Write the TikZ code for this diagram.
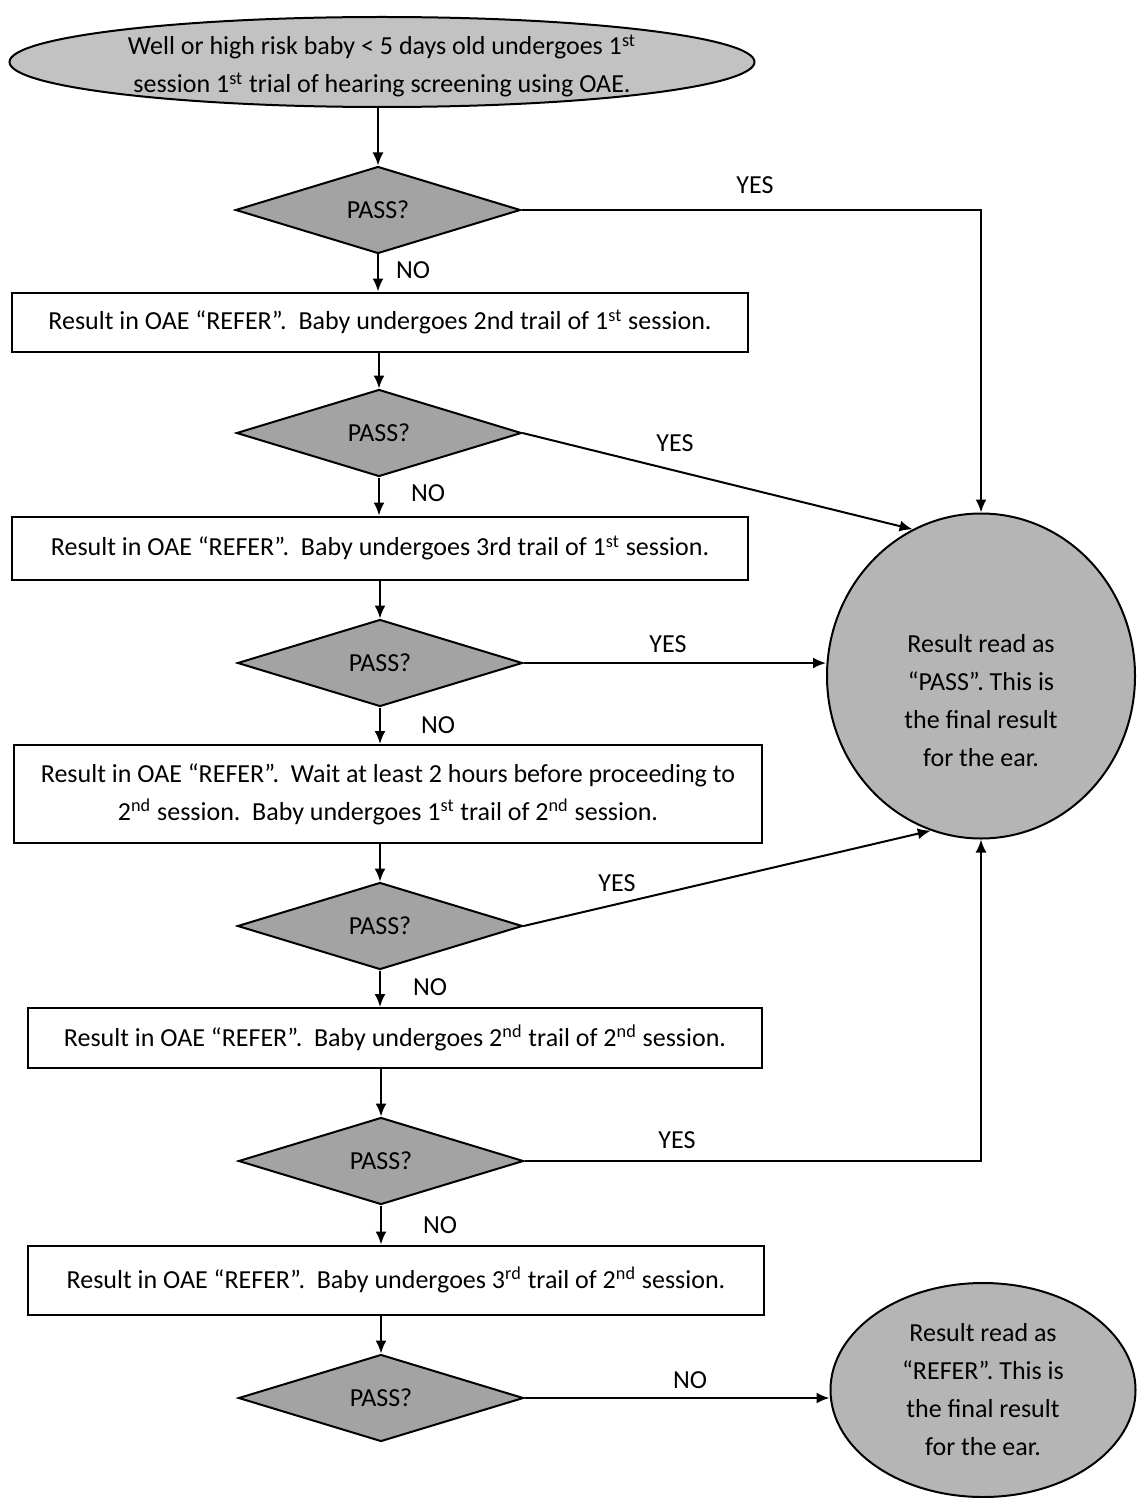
\documentclass[tikz,border=0pt]{standalone}
\usepackage{fontspec}
\setmainfont{Carlito}
\usetikzlibrary{calc}
\usetikzlibrary{arrows.meta}
\usetikzlibrary{shapes.geometric}

\begin{document}
\begin{tikzpicture}[x=0.5pt,y=-0.5pt,inner sep=0pt,line width=1pt,>={Latex[length=6.5pt,width=5.5pt]},
  every node/.style={font=\fontsize{13}{19}\selectfont},
  box/.style={draw,fill=white,align=center},
  test/.style={diamond,draw,fill=gray!72,minimum width=285*\u,minimum height=87*\u},
  final/.style={ellipse,draw,fill=gray!58,align=center}]
\def\u{0.5pt}
\useasboundingbox (0,0) rectangle (1136,1498);

\node[ellipse,draw,fill=gray!48,minimum width=745*\u,minimum height=90*\u] (start) at (382, 62) {};
\node[align=center] (starttext) at ($(start)+(0,4)$)
  {Well or high risk baby < 5 days old undergoes 1\textsuperscript{st}\\session 1\textsuperscript{st} trial of hearing screening using OAE.};

\node[test] (d1) at (378, 210) {PASS?};
\node[test] (d2) at (379, 433) {PASS?};
\node[test] (d3) at (380, 663) {PASS?};
\node[test] (d4) at (380, 926) {PASS?};
\node[test] (d5) at (381, 1161) {PASS?};
\node[test] (d6) at (381, 1398) {PASS?};

\node[box,minimum width=736*\u,minimum height=59*\u] (b1) at (380, 322)
  {Result in OAE “REFER”.\ \ Baby undergoes 2nd trail of 1\textsuperscript{st} session.};
\node[box,minimum width=736*\u,minimum height=63*\u] (b2) at (380, 548)
  {Result in OAE “REFER”.\ \ Baby undergoes 3rd trail of 1\textsuperscript{st} session.};
\node[box,minimum width=748*\u,minimum height=98*\u] (b3) at (388, 794)
  {Result in OAE “REFER”.\ \ Wait at least 2 hours before proceeding to\\2\textsuperscript{nd} session.\ \ Baby undergoes 1\textsuperscript{st} trail of 2\textsuperscript{nd} session.};
\node[box,minimum width=734*\u,minimum height=60*\u] (b4) at (395, 1038)
  {Result in OAE “REFER”.\ \ Baby undergoes 2\textsuperscript{nd} trail of 2\textsuperscript{nd} session.};
\node[box,minimum width=736*\u,minimum height=69*\u] (b5) at (396, 1280)
  {Result in OAE “REFER”.\ \ Baby undergoes 3\textsuperscript{rd} trail of 2\textsuperscript{nd} session.};

\node[final,minimum width=308*\u,minimum height=325*\u] (pass) at (981, 676) {};
\node[align=center] (passtext) at ($(pass)+(0,25)$)
  {Result read as\\“PASS”. This is\\the final result\\for the ear.};
\node[final,minimum width=305*\u,minimum height=214*\u] (refer) at (983, 1390)
  {Result read as\\“REFER”. This is\\the final result\\for the ear.};

\draw[->] (start.south -| d1.north) -- (d1);
\draw[->] (d1) -- (d1 |- b1.north);
\draw[->] (b1.south -| d2.north) -- (d2);
\draw[->] (d2) -- (d2 |- b2.north);
\draw[->] (b2.south -| d3.north) -- (d3);
\draw[->] (d3) -- (d3 |- b3.north);
\draw[->] (b3.south -| d4.north) -- (d4);
\draw[->] (d4) -- (d4 |- b4.north);
\draw[->] (b4.south -| d5.north) -- (d5);
\draw[->] (d5) -- (d5 |- b5.north);
\draw[->] (b5.south -| d6.north) -- (d6);

\draw[->] (d1.east) -| (pass.north);
\draw[->] (d2.east) -- (pass.115);
\draw[->] (d3.east) -- (d3.east -| pass.west);
\draw[->] (d4.east) -- (pass.252);
\draw[->] (d5.east) -| (pass.south);
\draw[->] (d6.east) -- (d6.east -| refer.west);

\node (y1) at (755, 185) {YES};
\node (y2) at (675, 443) {YES};
\node (y3) at (668, 644) {YES};
\node (y4) at (617, 883) {YES};
\node (y5) at (677, 1140) {YES};
\node (n1) at (413, 270) {NO};
\node (n2) at (428, 493) {NO};
\node (n3) at (438, 725) {NO};
\node (n4) at (430, 987) {NO};
\node (n5) at (440, 1225) {NO};
\node (n6) at (690, 1380) {NO};
\end{tikzpicture}
\end{document}
